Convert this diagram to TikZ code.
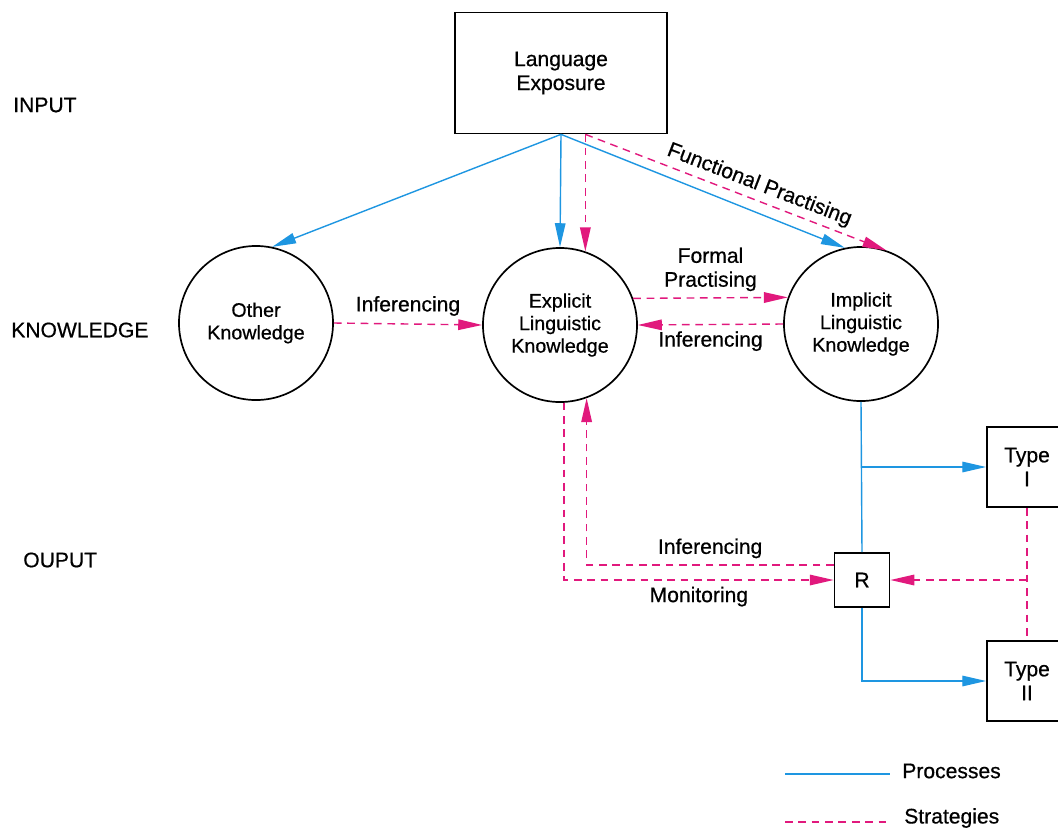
\documentclass[tikz,border=0pt]{standalone}
\usepackage{fontspec}
\setmainfont{Liberation Sans}[UprightFeatures={FakeBold=0.6}]
\usepackage{xcolor}
\usetikzlibrary{positioning,calc,arrows.meta}
\definecolor{procblue}{RGB}{30,150,225}
\definecolor{stratpink}{RGB}{225,25,125}

\begin{document}
\begin{tikzpicture}[x=0.025cm, y=-0.025cm, font=\fontsize{15}{17}\selectfont,
    inbox/.style={draw, line width=1.2pt, minimum width=5.3cm, minimum height=3.025cm, align=center},
    know/.style={draw, circle, line width=1.2pt, minimum size=3.85cm, inner sep=0pt, align=center, font=\fontsize{14}{16}\selectfont},
    outbox/.style={draw, line width=1.2pt, minimum size=2cm, inner sep=0pt, align=center},
    rbox/.style={draw, line width=1.2pt, minimum width=1.375cm, minimum height=1.35cm, inner sep=0pt},
    process/.style={procblue, line width=1pt, -{Triangle[length=17pt,width=7.5pt]}},
    strategy/.style={stratpink, line width=1pt, dash pattern=on 5.5pt off 4pt, -{Triangle[length=17pt,width=7.5pt]}}]
    \useasboundingbox (0,0) rectangle (1058,830);

    \node [anchor=west, inner sep=0pt] (input) at (13,105) {INPUT};
    \node [anchor=west, inner sep=0pt] (knowledge) at (11,330) {KNOWLEDGE};
    \node [anchor=west, inner sep=0pt] (output) at (23,560) {OUPUT};

    \node [inbox] (LE) at (561,73) {Language\\Exposure};
    \node [know] (OK) at (256,323) {Other\\Knowledge};
    \node [know] (ELK) at (560,325) {Explicit\\Linguistic\\Knowledge};
    \node [know] (ILK) at (861,324) {Implicit\\Linguistic\\Knowledge};
    \node [outbox] (T1) at (1027,467) {Type\\I};
    \node [outbox] (T2) at (1027,681) {Type\\II};
    \node [rbox] (R) at (862,580) {R};

    \draw [process] (LE.south) -- (OK.78);
    \draw [process] (LE.south) -- (ELK.north);
    \draw [process] (LE.south) -- (ILK.102);
    \draw [strategy] (ELK.71 |- LE.south) -- (ELK.71);
    \draw [strategy] (ELK.71 |- LE.south) -- (ILK.71)
        node [pos=0.56, above=0pt, sloped, black] {Functional Practising};

    \draw [strategy] (OK.east) -- (ELK.west) node [midway, above=2pt, black] {Inferencing};
    \draw [strategy] (ELK.20) -- (ILK.160) node [midway, above=1pt, align=center, black] {Formal\\Practising};
    \draw [strategy] (ILK.west) -- (ELK.east) node [midway, below=1pt, black] {Inferencing};

    \draw [process, -] (ILK.south) -- (R.north);
    \draw [process] (ILK.south |- T1.west) -- (T1.west);
    \draw [process] (R.south) |- (T2.west);

    \draw [strategy, -] (T1.south) -- (T2.north);
    \draw [strategy] (T1.south |- R.east) -- (R.east);
    \draw [strategy] ($(R.west)+(0,-15)$) -| (ELK.-70)
        node [pos=0.25, above=1pt, black] {Inferencing};
    \draw [strategy] (ELK.-87) |- (R.west)
        node [pos=0.75, below=1pt, black] {Monitoring};

    \coordinate (procA) at (785,774);
    \coordinate (procB) at (890,774);
    \coordinate (stratA) at (785,822);
    \coordinate (stratB) at (890,822);
    \node [anchor=west, inner sep=0pt] (procleg) at (902,771) {Processes};
    \node [anchor=west, inner sep=0pt] (stratleg) at (904,818) {Strategies};
    \draw [process, -] (procA) -- (procB);
    \draw [strategy, -] (stratA) -- (stratB);
\end{tikzpicture}
\end{document}
